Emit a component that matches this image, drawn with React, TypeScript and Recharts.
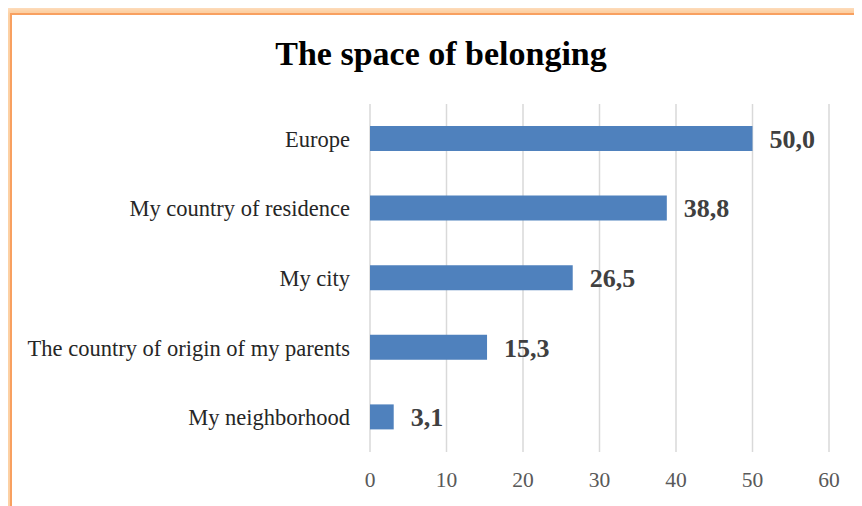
import React from 'react'
import { BarChart, Bar, XAxis, YAxis, CartesianGrid, LabelList } from 'recharts'

// Share of respondents per space of belonging (%)
const places = [
  'Europe',
  'My country of residence',
  'My city',
  'The country of origin of my parents',
  'My neighborhood',
]
const shares = [50.0, 38.8, 26.5, 15.3, 3.1]
const xTicks = [0, 10, 20, 30, 40, 50, 60]

const data = places.map((name, i) => ({ name, value: shares[i] }))

const FONT = '"Liberation Serif", "Times New Roman", serif'

const fmt = (v: any) => Number(v).toFixed(1).replace('.', ',')

export default function App() {
  return (
    <div
      style={{
        position: 'relative',
        width: 862,
        height: 506,
        margin: '-8px 0 0 -8px',
        overflow: 'hidden',
        background: '#fff',
        fontFamily: FONT,
      }}
    >
      {/* orange frame with soft glow */}
      <div
        style={{
          position: 'absolute',
          left: 10,
          top: 13,
          width: 920,
          height: 620,
          border: '2px solid #f8a060',
          boxShadow: '0 0 9px 7px rgba(251,185,120,0.75)',
          background: '#fff',
        }}
      />
      <div
        style={{
          position: 'absolute',
          left: 0,
          top: 34,
          width: 882,
          textAlign: 'center',
          fontSize: 34,
          fontWeight: 'bold',
          color: '#000',
          lineHeight: '40px',
        }}
      >
        The space of belonging
      </div>
      <div style={{ position: 'absolute', left: 0, top: 0 }}>
        <BarChart
          width={862}
          height={506}
          data={data}
          layout="vertical"
          margin={{ top: 104, right: 33, bottom: 0, left: 0 }}
        >
          <CartesianGrid horizontal={false} stroke="#d9d9d9" strokeWidth={1.5} />
          <XAxis
            type="number"
            domain={[0, 60]}
            ticks={xTicks}
            axisLine={false}
            tickLine={false}
            height={54}
            tickMargin={14}
            tick={{ fill: '#595959', fontSize: 21.5, fontFamily: FONT }}
          />
          <YAxis
            type="category"
            dataKey="name"
            width={370}
            axisLine={false}
            tickLine={false}
            tickMargin={14}
            tick={{ fill: '#262626', fontSize: 22.5, fontFamily: FONT }}
          />
          <Bar dataKey="value" fill="#4f81bd" barSize={25} isAnimationActive={false}>
            <LabelList
              dataKey="value"
              position="right"
              offset={17}
              formatter={fmt}
              style={{ fill: '#404040', fontSize: 26, fontWeight: 'bold', fontFamily: FONT }}
            />
          </Bar>
        </BarChart>
      </div>
    </div>
  )
}
